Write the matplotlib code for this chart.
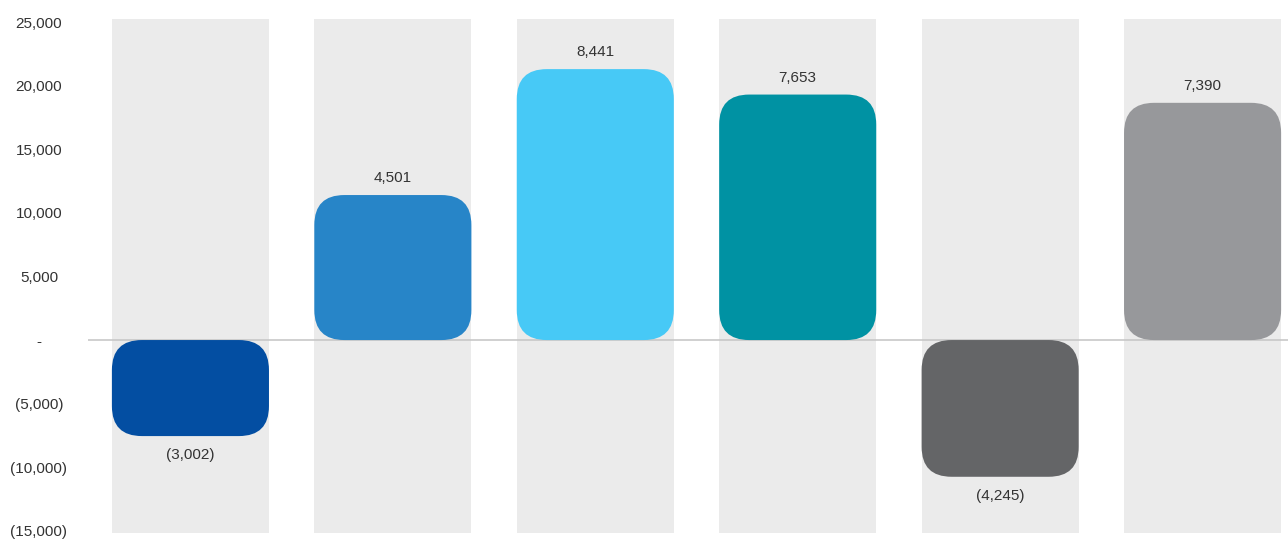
import matplotlib
matplotlib.use("Agg")
import matplotlib.pyplot as plt
from matplotlib.patches import FancyBboxPatch

# bar heights as drawn on the axis, and the value labels printed on them
bar_heights = [-7550, 11400, 21300, 19300, -10750, 18650]
bar_labels = ["(3,002)", "4,501", "8,441", "7,653", "(4,245)", "7,390"]
bar_colors = ["#034EA2", "#2785C8", "#47C9F6", "#0092A3", "#646567", "#97989B"]

y_ticks = [25000, 20000, 15000, 10000, 5000, 0, -5000, -10000, -15000]
y_tick_labels = ["25,000", "20,000", "15,000", "10,000", "5,000", "-",
                 "(5,000)", "(10,000)", "(15,000)"]

plt.rcParams["font.family"] = ["Liberation Sans", "DejaVu Sans"]

W, H = 1288, 539
fig = plt.figure(figsize=(W / 100, H / 100), dpi=100)
ax = fig.add_axes([88 / W, 6 / H, 1 - 88 / W, 514 / H])

ax.set_xlim(-0.506, 5.422)
ax.set_ylim(-15170, 25240)
for s in ax.spines.values():
    s.set_visible(False)
ax.set_xticks([])
ax.set_yticks(y_ticks)
ax.set_yticklabels(y_tick_labels, fontsize=11, color="#333333", ha="center")
ax.tick_params(axis="y", length=0, pad=35.3)

band_w = 0.776
for i in range(len(bar_heights)):
    ax.axvspan(i - band_w / 2, i + band_w / 2, color="#EBEBEB", zorder=0, lw=0)

ax.axhline(0, color="#C8C8C8", lw=1.2, zorder=1)

# convert a pixel radius to data units so corners look round
x_per_px = (ax.get_xlim()[1] - ax.get_xlim()[0]) / (W - 88)
y_per_px = (ax.get_ylim()[1] - ax.get_ylim()[0]) / 514
radius_px = 30
aspect = y_per_px / x_per_px

for i, (h, lab, c) in enumerate(zip(bar_heights, bar_labels, bar_colors)):
    x0 = i - band_w / 2
    y0 = min(0, h)
    patch = FancyBboxPatch((x0, y0), band_w, abs(h),
                           boxstyle="round,pad=0,rounding_size=%f" % (radius_px * x_per_px),
                           mutation_aspect=aspect, fc=c, ec="none", zorder=2)
    ax.add_patch(patch)
    off = 17 if h > 0 else -19
    ax.annotate(lab, (i, h), xytext=(0, off * 0.72), textcoords="offset points",
                ha="center", va="center", fontsize=11, color="#333333")

fig.savefig("out.png", dpi=100)
